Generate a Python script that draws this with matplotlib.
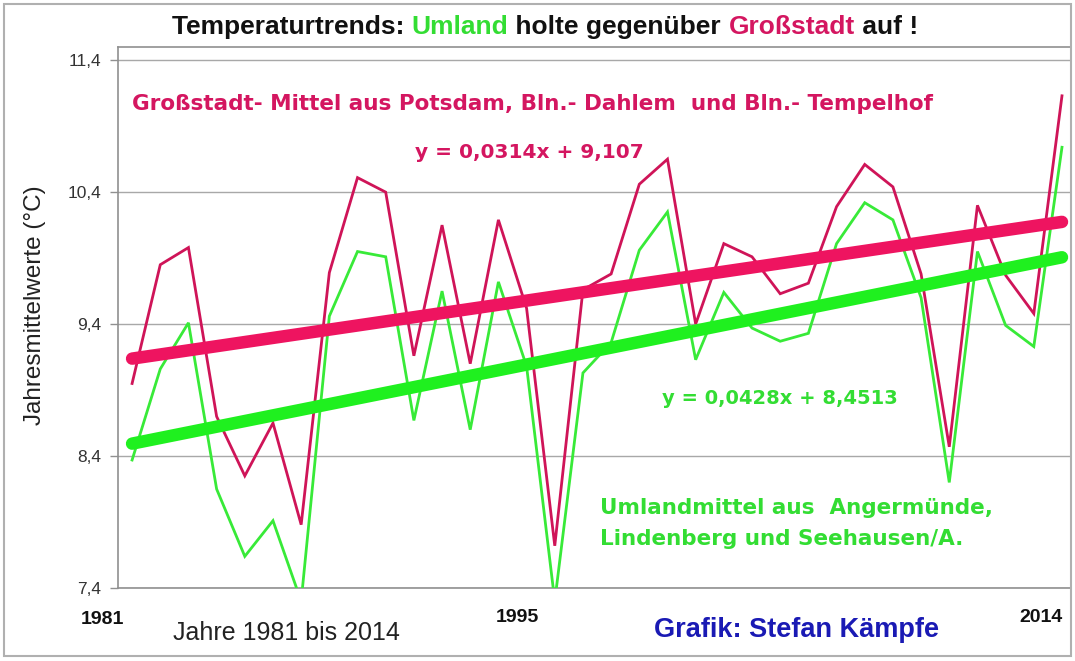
import matplotlib
matplotlib.use("Agg")
import matplotlib.pyplot as plt
from matplotlib.patches import Rectangle
import numpy as np

# ---------------- data ----------------
years = list(range(1981, 2015))
grossstadt = [8.95, 9.85, 9.98, 8.70, 8.25, 8.65, 7.88, 9.79, 10.51, 10.40,
              9.16, 10.15, 9.10, 10.19, 9.52, 7.72, 9.66, 9.78, 10.46, 10.65,
              9.40, 10.01, 9.91, 9.63, 9.71, 10.29, 10.61, 10.44, 9.78, 8.47,
              10.30, 9.77, 9.48, 11.13]
umland = [8.37, 9.06, 9.41, 8.15, 7.64, 7.91, 7.30, 9.46, 9.95, 9.91,
          8.67, 9.65, 8.60, 9.72, 9.08, 7.30, 9.03, 9.26, 9.96, 10.25,
          9.13, 9.64, 9.37, 9.27, 9.33, 10.01, 10.32, 10.19, 9.60, 8.20,
          9.95, 9.39, 9.23, 10.74]
trend_gross = (0.0314, 9.107)
trend_umland = (0.0428, 8.4513)
yticks = [7.4, 8.4, 9.4, 10.4, 11.4]
ytick_labels = ["7,4", "8,4", "9,4", "10,4", "11,4"]
xtick_years = ["1981", "1995", "2014"]

# ---------------- colours ----------------
RED = "#cf1458"
RED_TREND = "#ee1460"
GREEN = "#38ea38"
GREEN_TREND = "#1ff01f"
TXT_RED = "#d41660"
TXT_GREEN = "#33dd33"
BLUE = "#1a1ab4"

W, H = 1075, 661
fig = plt.figure(figsize=(W / 100, H / 100), dpi=100)
fig.patch.set_facecolor("white")

def fx(px):
    return px / W

def fy(py):
    return 1 - py / H

# outer frame
fig.patches.append(Rectangle((fx(4), fy(656)), fx(1067), 652 / H, transform=fig.transFigure,
                             fill=False, edgecolor="#b0b0b0", linewidth=1.5))

left, right, top, bottom = 118, 1071, 47, 588
ax = fig.add_axes([fx(left), fy(bottom), fx(right - left), (bottom - top) / H])
ax.set_facecolor("white")

x = np.arange(1, len(years) + 1)
ax.set_xlim(0.5, len(years) + 0.32)
ax.set_ylim(7.4, 11.5)

for yv in yticks:
    ax.axhline(yv, color="#a8a8a8", linewidth=1.0, zorder=1)

ax.plot(x, grossstadt, color=RED, linewidth=2.0, zorder=3, solid_joinstyle="miter")
ax.plot(x, umland, color=GREEN, linewidth=2.0, zorder=3, solid_joinstyle="miter")

xt = np.array([x[0], x[-1]])
ax.plot(xt, trend_gross[0] * xt + trend_gross[1], color=RED_TREND, linewidth=9,
        solid_capstyle="round", zorder=4)
ax.plot(xt, trend_umland[0] * xt + trend_umland[1], color=GREEN_TREND, linewidth=9,
        solid_capstyle="round", zorder=4)

ax.set_yticks(yticks)
ax.set_yticklabels(ytick_labels, fontsize=12.5, color="#333333", family="Liberation Sans")
ax.tick_params(axis="y", length=6, width=1, color="#909090", pad=6, direction="out")
ax.set_xticks([])
for s in ax.spines.values():
    s.set_color("#909090")
    s.set_linewidth(1.2)

# y label
fig.text(fx(35), fy(305), "Jahresmittelwerte (°C)", rotation=90, ha="center", va="center",
         fontsize=17.5, color="#222222", family="Liberation Sans")

# x tick year labels
for lbl, px, py in zip(xtick_years, [102, 517, 1041], [620, 617, 617]):
    fig.text(fx(px), fy(py), lbl, ha="center", va="center", fontsize=14,
             fontweight="bold", color="#111111", family="Liberation Sans")

fig.text(fx(286), fy(633), "Jahre 1981 bis 2014", ha="center", va="center",
         fontsize=18, color="#222222", family="Liberation Sans")
fig.text(fx(797), fy(630), "Grafik: Stefan Kämpfe", ha="center", va="center",
         fontsize=19.5, fontweight="bold", color=BLUE, family="Liberation Sans")

# annotations
bold = dict(fontweight="bold", family="DejaVu Sans")
fig.text(fx(132), fy(104), "Großstadt- Mittel aus Potsdam, Bln.- Dahlem  und Bln.- Tempelhof",
         ha="left", va="center", fontsize=15.5, color=TXT_RED, **bold)
fig.text(fx(415), fy(153), "y = 0,0314x + 9,107", ha="left", va="center",
         fontsize=14.5, color=TXT_RED, **bold)
fig.text(fx(662), fy(398), "y = 0,0428x + 8,4513", ha="left", va="center",
         fontsize=14.0, color=TXT_GREEN, **bold)
fig.text(fx(600), fy(508), "Umlandmittel aus  Angermünde,", ha="left", va="center",
         fontsize=15.5, color=TXT_GREEN, **bold)
fig.text(fx(600), fy(539), "Lindenberg und Seehausen/A.", ha="left", va="center",
         fontsize=15.5, color=TXT_GREEN, **bold)

# multi-coloured title
parts = [("Temperaturtrends: ", "#111111"), ("Umland", "#33dd33"),
         (" holte gegenüber ", "#111111"), ("Großstadt", "#d41660"), (" auf !", "#111111")]
renderer = fig.canvas.get_renderer()
xpos = 172
for txt, col in parts:
    t = fig.text(fx(xpos), fy(27), txt, ha="left", va="center", fontsize=19,
                 fontweight="bold", color=col, family="Liberation Sans")
    bb = t.get_window_extent(renderer=renderer)
    xpos += bb.width

fig.savefig("out.png", dpi=100, facecolor="white")
